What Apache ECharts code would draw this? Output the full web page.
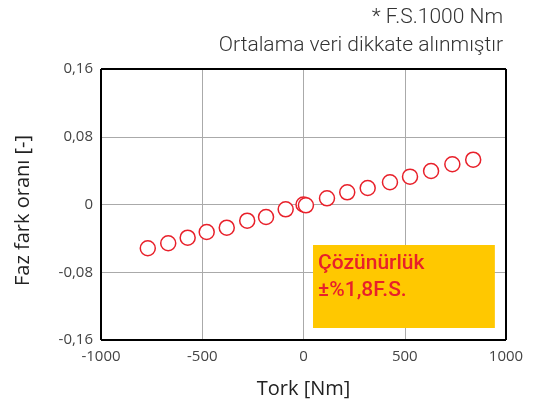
<!DOCTYPE html>
<html><head><meta charset="utf-8">
<script src="https://cdn.jsdelivr.net/npm/echarts@6/dist/echarts.min.js"></script>
<style>html,body{margin:0;padding:0;background:#fff}#c{width:539px;height:406px}</style>
</head><body><div id="c"></div>
<script>
const torque = [-769, -668, -572, -478, -379, -278, -185, -88, 0, 12, 116, 216, 317, 427, 526, 630, 735, 838];
const ratio = [-0.0517, -0.0458, -0.0392, -0.0325, -0.0274, -0.0191, -0.0148, -0.0057, 0.0000, -0.0010, 0.0073, 0.0144, 0.0195, 0.0263, 0.0329, 0.0396, 0.0475, 0.0529];
const xTicks = [-1000, -500, 0, 500, 1000];
const yTicks = [-0.16, -0.08, 0, 0.08, 0.16];
const boxX = [47, 945];
const boxY = [-0.0478, -0.1458];
const boxText = 'Çözünürlük\n±%1,8F.S.';
const note1 = '* F.S.1000 Nm';
const note2 = 'Ortalama veri dikkate alınmıştır';

const chart = echarts.init(document.getElementById('c'));
const fmt = v => (v === 0 ? '0' : String(v).replace('.', ','));
chart.setOption({
  animation: false,
  title: [
    {text: note1, right: 31, top: 2, textStyle: {fontFamily: 'Roboto', fontWeight: 300, fontSize: 21, color: '#333'}},
    {text: note2, right: 31, top: 30, textStyle: {fontFamily: 'Roboto', fontWeight: 300, fontSize: 21, color: '#333'}}
  ],
  grid: {left: 101, right: 33, top: 69, bottom: 66},
  xAxis: {
    type: 'value', min: -1000, max: 1000, interval: 500,
    name: 'Tork [Nm]', nameLocation: 'middle', nameGap: 39,
    nameTextStyle: {fontFamily: 'Open Sans', fontSize: 20, color: '#222'},
    axisLine: {show: false}, axisTick: {show: false},
    axisLabel: {fontFamily: 'Open Sans', fontSize: 15, color: '#444', margin: 9, formatter: fmt},
    splitLine: {lineStyle: {color: '#aaa', width: 1}}
  },
  yAxis: {
    type: 'value', min: -0.16, max: 0.16, interval: 0.08,
    name: 'Faz fark oranı [-]', nameLocation: 'middle', nameGap: 68,
    nameTextStyle: {fontFamily: 'Open Sans', fontSize: 20, color: '#222', padding: [0, 0, 0, -12]},
    axisLine: {show: false}, axisTick: {show: false},
    axisLabel: {fontFamily: 'Open Sans', fontSize: 15, color: '#444', margin: 8, formatter: fmt},
    splitLine: {lineStyle: {color: '#aaa', width: 1}}
  },
  series: [
    {
      type: 'scatter',
      data: torque.map((t, i) => [t, ratio[i]]),
      symbol: 'circle', symbolSize: 15,
      itemStyle: {color: '#fff', borderColor: '#e8202a', borderWidth: 1.5, opacity: 1},
      z: 5,
      markArea: {
        silent: true,
        itemStyle: {color: '#ffc800', opacity: 1},
        label: {show: true, position: 'insideTopLeft', distance: 5, formatter: boxText,
          fontFamily: 'Roboto', fontSize: 21, fontWeight: 500, color: '#e8202a', lineHeight: 27},
        data: [[{coord: [boxX[0], boxY[0]]}, {coord: [boxX[1], boxY[1]]}]]
      }
    },
    {
      type: 'line', data: [], silent: true,
      markLine: {silent: true, symbol: 'none', label: {show: false}, lineStyle: {color: '#000', width: 2, type: 'solid'},
        data: [
          [{coord: [-1000, -0.16]}, {coord: [1000, -0.16]}],
          [{coord: [-1000, 0.16]}, {coord: [1000, 0.16]}],
          [{coord: [-1000, -0.16]}, {coord: [-1000, 0.16]}],
          [{coord: [1000, -0.16]}, {coord: [1000, 0.16]}]
        ]}
    }
  ]
});
</script></body></html>
